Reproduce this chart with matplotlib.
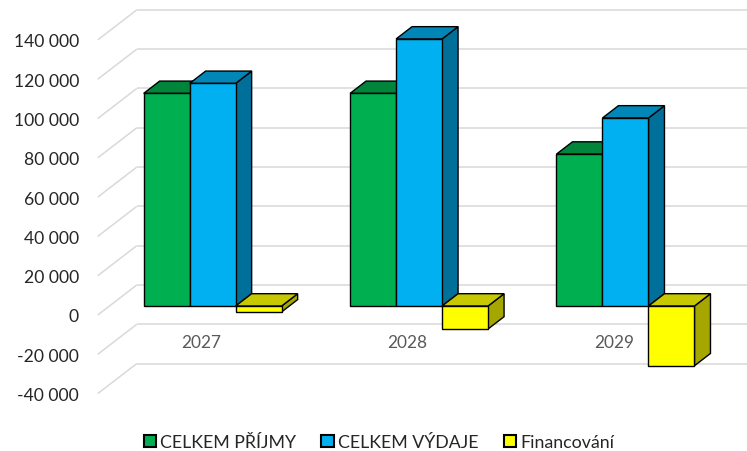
import matplotlib
matplotlib.use("Agg")
import matplotlib.pyplot as plt
from matplotlib.patches import Polygon, Patch

# ---- data ----
categories = ["2027", "2028", "2029"]
series_names = ["CELKEM PŘÍJMY", "CELKEM VÝDAJE", "Financování"]
prijmy = [108200, 108200, 77300]
vydaje = [113300, 135900, 95700]
financovani = [-3000, -11700, -30400]
y_ticks = [-40000, -20000, 0, 20000, 40000, 60000, 80000, 100000, 120000, 140000]
y_tick_labels = ["-40 000", "-20 000", "0", "20 000", "40 000", "60 000",
                 "80 000", "100 000", "120 000", "140 000"]

# colours: front, top, side
colors = [
    ("#00B050", "#00853B", "#006E30"),
    ("#00B0F0", "#0087B8", "#00709A"),
    ("#FFFF00", "#C8C800", "#A6A600"),
]

plt.rcParams['font.family'] = ['Lato', 'DejaVu Sans']

W, H = 747, 452
fig = plt.figure(figsize=(W / 100, H / 100), dpi=100)
left_px, right_px, top_px, bot_px = 97.75, 717.0, 40.9, 394.6
ax = fig.add_axes([left_px / W, (H - bot_px) / H,
                   (right_px - left_px) / W, (bot_px - top_px) / H])
xmin, xmax, ymin, ymax = -0.5, 2.5, -40000, 140000
ax.set_xlim(xmin, xmax)
ax.set_ylim(ymin, ymax)

# pixel -> data conversions
px_x = (right_px - left_px) / (xmax - xmin)
px_y = (bot_px - top_px) / (ymax - ymin)
DX = 39 / px_x          # full depth offset (x)
DY = 30 / px_y          # full depth offset (y)

grid_c = "#D9D9D9"
for v in y_ticks:
    ax.plot([xmin + DX, xmax + DX + 1], [v + DY, v + DY], color=grid_c,
            lw=1.1, clip_on=False, zorder=1, solid_capstyle='butt')
    ax.plot([xmin, xmin + DX], [v, v + DY], color=grid_c,
            lw=1.1, clip_on=False, zorder=1, solid_capstyle='butt')

# bar geometry
bar_w = 46 / px_x
front_frac = 0.30
depth_frac = 0.41
ox, oy = front_frac * DX, front_frac * DY
bx, by = depth_frac * DX, depth_frac * DY

z = [3]


def add_poly(pts, fc):
    ax.add_patch(Polygon(pts, closed=True, facecolor=fc, edgecolor="black",
                         lw=1.0, joinstyle='miter', zorder=z[0], clip_on=False))
    z[0] += 0.01


all_series = [prijmy, vydaje, financovani]
for i, cat in enumerate(categories):
    for s, vals in enumerate(all_series):
        v = vals[i]
        lo, hi = min(0, v), max(0, v)
        x0 = i - 1.5 * bar_w + s * bar_w + ox
        x1 = x0 + bar_w
        front, top, side = colors[s]
        # side face
        add_poly([(x1, lo + oy), (x1, hi + oy), (x1 + bx, hi + oy + by),
                  (x1 + bx, lo + oy + by)], side)
        # top face
        add_poly([(x0, hi + oy), (x1, hi + oy), (x1 + bx, hi + oy + by),
                  (x0 + bx, hi + oy + by)], top)
        # front face
        add_poly([(x0, lo + oy), (x1, lo + oy), (x1, hi + oy), (x0, hi + oy)],
                 front)
    ax.annotate(cat, (i, 0), xytext=(0, -27 * 0.72), textcoords='offset points',
                ha='center', va='center', fontsize=12.4, color="#595959")

ax.set_yticks(y_ticks)
ax.set_yticklabels(y_tick_labels, fontsize=12.6, color="#262626")
ax.set_xticks([])
ax.tick_params(axis='y', length=0, pad=13.5)
for sp in ax.spines.values():
    sp.set_visible(False)
ax.patch.set_visible(False)

handles = [Patch(facecolor=colors[k][0], edgecolor="black", lw=1.5)
           for k in range(3)]
fig.legend(handles, series_names, loc='center',
           bbox_to_anchor=(379 / W, 1 - 443 / H), ncol=3, frameon=False,
           fontsize=12.8, handlelength=0.7, handleheight=0.7,
           handletextpad=0.25, columnspacing=1.4, labelcolor="#262626")

fig.savefig("out.png", dpi=100)
